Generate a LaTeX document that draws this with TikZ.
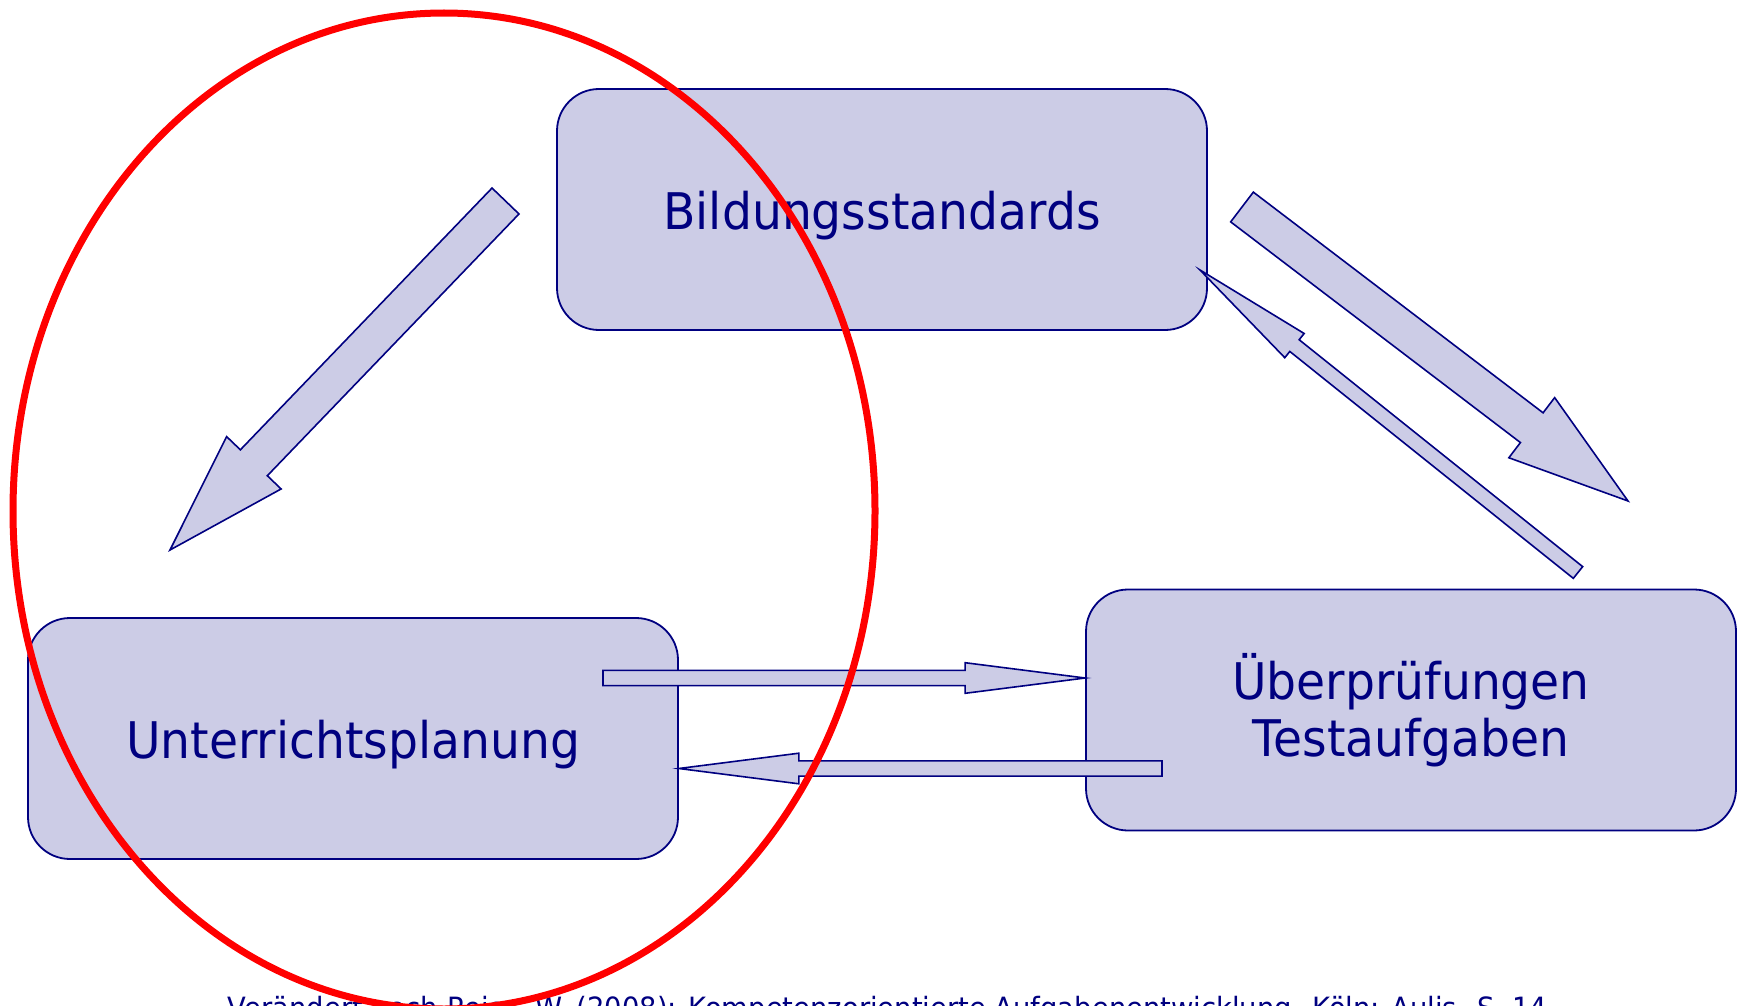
\documentclass[tikz,border=0pt]{standalone}
\usepackage{fontspec}
\setmainfont{DejaVu Sans}[FakeStretch=0.935]
\usepackage{xcolor}
\usepackage{tikz}
\usetikzlibrary{calc}
\definecolor{stagenavy}{RGB}{0, 0, 128}
\definecolor{stagelight}{RGB}{204, 204, 230}
\definecolor{markred}{RGB}{255, 0, 0}

\newcommand{\blockarrow}[5]{%
  \coordinate (ah) at ($(#2)!#5!(#1)$);
  \draw[fatarrow] ($(#1)!#3!90:(#2)$) -- ($(ah)!#3!90:(#2)$) -- ($(ah)!#4!90:(#2)$) -- (#2)
    -- ($(ah)!#4!-90:(#2)$) -- ($(ah)!#3!-90:(#2)$) -- ($(#1)!#3!-90:(#2)$) -- cycle;
}

\begin{document}
\begin{tikzpicture}[x=1pt, y=-1pt,
    stage/.style={draw=stagenavy, line width=1.8pt, fill=stagelight, rounded corners=42pt,
      minimum width=650pt, minimum height=241pt, text=stagenavy, align=center,
      font=\fontsize{50.5}{57}\selectfont},
    oneline/.style={text height=40pt, text depth=0pt},
    fatarrow/.style={draw=stagenavy, line width=1.6pt, fill=stagelight, line join=miter}]
    \useasboundingbox (0,0) rectangle (1743,1006);

    \node[stage, oneline] (std) at (882,209.5) {Bildungsstandards};
    \node[stage, oneline] (plan) at (353,738.5) {Unterrichtsplanung};
    \node[stage] (test) at (1411,710) {Überprüfungen\\Testaufgaben};

    \coordinate (std2plan-s) at (505.5,201);
    \coordinate (std2plan-e) at (170,550);
    \coordinate (std2test-s) at (1242,207);
    \coordinate (std2test-e) at (1628,501);
    \coordinate (test2std-s) at (1578,572.5);
    \coordinate (test2std-e) at (1200,270);
    \coordinate (plan2test-s) at (603,678);
    \coordinate (plan2test-e) at ([yshift=32pt]test.west);
    \coordinate (test2plan-s) at (1162,768.5);
    \coordinate (test2plan-e) at ([yshift=-30pt]plan.east);

    \blockarrow{std2plan-s}{std2plan-e}{18.7pt}{37.8pt}{121pt}
    \blockarrow{std2test-s}{std2test-e}{18.7pt}{37.8pt}{121pt}
    \blockarrow{test2std-s}{test2std-e}{7.5pt}{15.5pt}{121pt}
    \blockarrow{plan2test-s}{plan2test-e}{7.6pt}{15.3pt}{120pt}
    \blockarrow{test2plan-s}{test2plan-e}{7.6pt}{15.3pt}{120pt}

    \node[anchor=base, text=stagenavy, font=\fontsize{29.3}{32}\selectfont] (source) at (887.5,1018)
      {Verändert nach Reiss, W. (2008): Kompetenzorientierte Aufgabenentwicklung. Köln: Aulis. S. 14};

    \draw[markred, line width=7pt] (444,511) ellipse [x radius=431pt, y radius=498pt];
\end{tikzpicture}
\end{document}
